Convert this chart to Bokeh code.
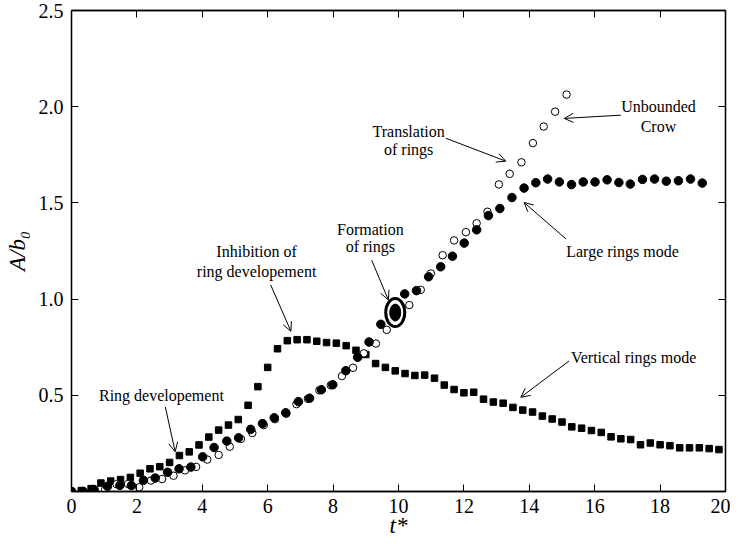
from bokeh.plotting import figure
from bokeh.models import (ColumnDataSource, FixedTicker, LinearAxis, Arrow, OpenHead,
                          Range1d, CustomJSTickFormatter, PrintfTickFormatter)
from bokeh.core.properties import value
from bokeh.embed import file_html
from bokeh.resources import INLINE

FONT = "Liberation Serif"

# ---------------- data ----------------
# Vertical rings mode (filled squares)
sq_t = [0.0, 0.3, 0.6, 0.9, 1.2, 1.5, 1.8, 2.1, 2.4, 2.7, 3.0, 3.3, 3.6, 3.9, 4.2, 4.5,
        4.8, 5.1, 5.4, 5.7, 6.0, 6.3, 6.6, 6.9, 7.2, 7.5, 7.8, 8.1, 8.4, 8.7, 9.0, 9.3,
        9.6, 9.9, 10.2, 10.5, 10.8, 11.1, 11.4, 11.7, 12.0, 12.3, 12.6, 12.9, 13.2, 13.5,
        13.8, 14.1, 14.4, 14.7, 15.0, 15.3, 15.6, 15.9, 16.2, 16.5, 16.8, 17.1, 17.4,
        17.7, 18.0, 18.3, 18.6, 18.9, 19.2, 19.5, 19.8]
sq_a = [0.0, 0.005, 0.015, 0.044, 0.054, 0.062, 0.073, 0.095, 0.118, 0.129, 0.151, 0.187,
        0.206, 0.242, 0.283, 0.319, 0.345, 0.374, 0.448, 0.545, 0.645, 0.742, 0.784,
        0.789, 0.789, 0.781, 0.774, 0.771, 0.758, 0.734, 0.712, 0.665, 0.645, 0.627,
        0.613, 0.603, 0.605, 0.589, 0.553, 0.530, 0.513, 0.516, 0.480, 0.465, 0.459,
        0.437, 0.423, 0.413, 0.392, 0.377, 0.361, 0.336, 0.329, 0.317, 0.307, 0.284,
        0.274, 0.270, 0.243, 0.252, 0.243, 0.238, 0.227, 0.227, 0.227, 0.223, 0.218]

# Large rings mode (filled circles)
fc_t = [0.0, 0.36, 0.69, 1.10, 1.48, 1.83, 2.20, 2.56, 2.94, 3.29, 3.65, 4.01, 4.36, 4.75,
        5.11, 5.48, 5.84, 6.20, 6.55, 6.94, 7.28, 7.64, 7.99, 8.39, 8.75, 9.10, 9.46,
        10.19, 10.55, 10.92, 11.29, 11.65, 12.01, 12.39, 12.75, 13.10, 13.47, 13.84,
        14.20, 14.56, 14.92, 15.29, 15.65, 16.01, 16.38, 16.74, 17.09, 17.46, 17.83,
        18.19, 18.56, 18.93, 19.29]
fc_a = [0.0, 0.0, 0.01, 0.027, 0.032, 0.031, 0.058, 0.070, 0.100, 0.118, 0.127, 0.180,
        0.229, 0.262, 0.279, 0.323, 0.353, 0.383, 0.409, 0.467, 0.485, 0.529, 0.555,
        0.628, 0.698, 0.777, 0.869, 1.027, 1.044, 1.116, 1.168, 1.223, 1.291, 1.360,
        1.434, 1.471, 1.528, 1.577, 1.605, 1.624, 1.609, 1.595, 1.609, 1.609, 1.620,
        1.606, 1.598, 1.622, 1.624, 1.613, 1.615, 1.624, 1.603]

# Unbounded Crow (open circles)
oc_t = [0.0, 0.34, 0.69, 1.03, 1.38, 1.73, 2.07, 2.43, 2.77, 3.12, 3.47, 3.81, 4.15, 4.50,
        4.84, 5.18, 5.53, 5.88, 6.22, 6.57, 6.88, 7.23, 7.58, 7.93, 8.27, 8.61, 8.94,
        9.31, 9.64, 10.33, 10.68, 10.99, 11.35, 11.70, 12.06, 12.39, 12.72, 13.07,
        13.40, 13.76, 14.11, 14.44, 14.79, 15.14]
oc_a = [0.0, 0.0, 0.005, 0.010, 0.038, 0.039, 0.022, 0.057, 0.065, 0.082, 0.110, 0.128,
        0.166, 0.190, 0.233, 0.273, 0.304, 0.345, 0.376, 0.405, 0.454, 0.482, 0.526,
        0.552, 0.600, 0.643, 0.718, 0.769, 0.840, 0.969, 1.048, 1.133, 1.228, 1.305,
        1.348, 1.394, 1.454, 1.596, 1.651, 1.711, 1.811, 1.897, 1.974, 2.063]

# Formation of rings marker
ring_t = [9.9]
ring_a = [0.93]

# annotation texts (one entry per line)
note_text = ["Ring developement", "Inhibition of", "ring developement",
             "Formation", "of rings", "Translation", "of rings",
             "Unbounded", "Crow", "Large rings mode", "Vertical rings mode"]
note_t = [2.75, 5.66, 5.66, 9.14, 9.14, 10.31, 10.31, 17.95, 17.95, 16.85, 17.19]
note_a = [0.499, 1.245, 1.142, 1.363, 1.271, 1.872, 1.775, 2.001, 1.898, 1.245, 0.694]

# arrows (start -> tip)
arr_t0 = [2.87, 6.09, 9.18, 11.45, 16.80, 15.12, 15.22]
arr_a0 = [0.439, 1.074, 1.202, 1.836, 1.956, 1.313, 0.679]
arr_t1 = [3.17, 6.71, 9.69, 13.28, 15.07, 13.84, 13.74]
arr_a1 = [0.207, 0.833, 0.996, 1.717, 1.939, 1.502, 0.490]

x_ticks = [0, 2, 4, 6, 8, 10, 12, 14, 16, 18, 20]
y_ticks = [0.5, 1.0, 1.5, 2.0, 2.5]

# ---------------- figure ----------------
p = figure(frame_width=654, frame_height=481, x_range=Range1d(0, 20), y_range=Range1d(0, 2.5),
           output_backend="svg", toolbar_location=None,
           min_border_left=71, min_border_right=5, min_border_top=10, min_border_bottom=20,
           x_axis_label="t*", y_axis_label="A/b\u2080")
p.grid.visible = False
p.background_fill_color = "white"
p.border_fill_color = "white"
p.outline_line_color = "black"
p.outline_line_width = 1.3


def style_axis(ax, ticks, labels=True):
    ax.ticker = FixedTicker(ticks=ticks)
    ax.minor_tick_line_color = None
    ax.major_tick_in = 7
    ax.major_tick_out = 0
    ax.major_tick_line_color = "black"
    ax.major_tick_line_width = 1
    ax.axis_line_color = "black"
    ax.axis_line_width = 1.3
    ax.major_label_text_font = FONT
    ax.major_label_text_font_size = "20px"
    ax.major_label_text_color = "black"
    ax.major_label_standoff = 8
    ax.axis_label_text_font = FONT
    ax.axis_label_text_font_size = "23px"
    ax.axis_label_text_font_style = "italic"
    ax.axis_label_text_color = "black"
    if not labels:
        ax.formatter = CustomJSTickFormatter(code="return ''")


style_axis(p.xaxis[0], x_ticks)
style_axis(p.yaxis[0], y_ticks)
p.yaxis[0].formatter = PrintfTickFormatter(format="%.1f")
p.xaxis[0].major_label_standoff = 7
p.xaxis[0].axis_label_standoff = -3
p.yaxis[0].axis_label_standoff = 6

top = LinearAxis()
right = LinearAxis()
style_axis(top, x_ticks, labels=False)
style_axis(right, y_ticks, labels=False)
top.major_label_standoff = 0
right.major_label_standoff = 0
p.add_layout(top, "above")
p.add_layout(right, "right")

# series
p.scatter(sq_t, sq_a, marker="square", size=6.5, fill_color="black", line_color="black")
p.scatter(oc_t, oc_a, marker="circle", size=7.5, fill_color="white", line_color="black",
          line_width=1)
p.scatter(fc_t, fc_a, marker="circle", size=8.5, fill_color="black", line_color="black")

p.ellipse(ring_t, ring_a, width=19, height=28, width_units="screen", height_units="screen",
          fill_color="white", line_color="black", line_width=3)
p.ellipse(ring_t, ring_a, width=11, height=17, width_units="screen", height_units="screen",
          fill_color="black", line_color="black")

# annotations
p.text(note_t, note_a, text=note_text, text_font=value(FONT), text_font_size="16px",
       text_align="center", text_baseline="middle", text_color="black")

arr_src = ColumnDataSource(dict(x0=arr_t0, y0=arr_a0, x1=arr_t1, y1=arr_a1))
p.add_layout(Arrow(end=OpenHead(size=9, line_width=1, line_color="black"),
                   x_start="x0", y_start="y0", x_end="x1", y_end="y1",
                   source=arr_src, line_color="black", line_width=1))

open("out.html", "w").write(file_html(p, INLINE))
